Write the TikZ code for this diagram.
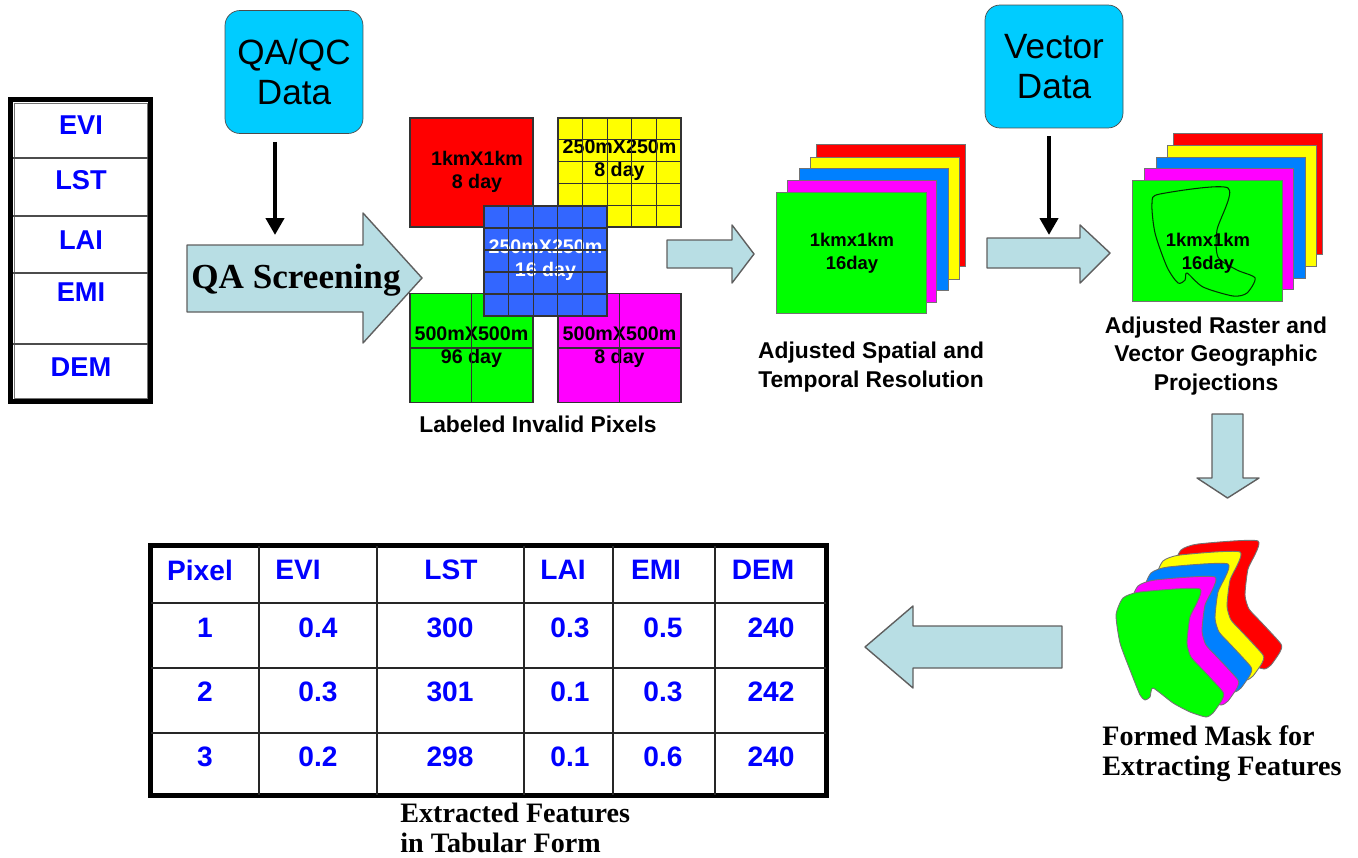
\documentclass[tikz,border=0pt]{standalone}
\usepackage{fontspec}
\setmainfont{Liberation Sans}
\newfontfamily\timesfont{Liberation Serif}
\usetikzlibrary{arrows.meta}

\definecolor{datacyan}{RGB}{0,204,255}
\definecolor{arrfill}{RGB}{184,222,228}
\definecolor{arrline}{RGB}{95,95,95}
\definecolor{txtblue}{RGB}{0,0,255}
\definecolor{tileblue}{RGB}{51,102,255}
\definecolor{layblue}{RGB}{0,128,255}
\definecolor{layred}{RGB}{255,0,0}
\definecolor{layyellow}{RGB}{255,255,0}
\definecolor{laygreen}{RGB}{0,255,0}
\definecolor{laymagenta}{RGB}{255,0,255}

\begin{document}
\begin{tikzpicture}[
  x=0.02cm, y=-0.02cm,
  blockarr/.style={fill=arrfill, draw=arrline, line width=0.8pt, line join=round},
  feed/.style={-{Triangle[width=0.36cm,length=0.34cm]}, line width=2.8pt, black},
  databox/.style={draw=black!70, fill=datacyan, rounded corners=0.3cm,
                  minimum width=2.76cm, minimum height=2.46cm, align=center,
                  font=\fontsize{20}{23}\selectfont},
  tile/.style={draw=black!80, line width=0.6pt, minimum width=2.46cm,
               minimum height=2.18cm, inner sep=0pt},
  tiletxt/.style={font=\fontsize{11.2}{13}\selectfont\bfseries, align=center, inner sep=0pt},
  gridln/.style={black!80, line width=0.6pt},
  layer/.style={draw=black!55, line width=0.5pt},
  stacktxt/.style={font=\fontsize{10.5}{13}\selectfont\bfseries, align=center, inner sep=0pt},
  lbl/.style={font=\fontsize{13}{16.3}\selectfont\bfseries, align=center, inner sep=0pt},
  serlbl/.style={font=\timesfont\fontsize{16}{17}\selectfont\bfseries, align=left, inner sep=0pt},
  band/.style={font=\fontsize{15.5}{18}\selectfont\bfseries, text=txtblue, inner sep=0pt},
  tcell/.style={font=\fontsize{16}{19}\selectfont\bfseries, text=txtblue, inner sep=0pt},
  tline/.style={black!85, line width=0.8pt},
]
\useasboundingbox (0,0) rectangle (1358,858);

%% ── input layers ─────────────────────────────────────────────────
\draw[line width=2.8pt] (10.5,99.5) rectangle (150.5,401.5);
\draw[black!55, line width=0.5pt] (14,103) rectangle (147,398);
\foreach \y in {158,216,273,344}
  \draw[black!70, line width=0.6pt] (13,\y) -- (148,\y);
\foreach \y/\t in {125/EVI, 180/LST, 240/LAI, 292/EMI, 367/DEM}
  \node[band] (b\t) at (81,\y) {\t};

%% ── QA screening ─────────────────────────────────────────────────
\node[databox] (qaqc) at (294,72) {QA/QC\\Data};
\coordinate (qain) at (275,235);
\draw[feed, shorten <=0.16cm] (qaqc.south -| qain) -- (qain);

\draw[blockarr] (187,245) -- (363,245) -- (363,213) -- (422,278)
  -- (363,343) -- (363,312) -- (187,312) -- cycle;
\node[font=\timesfont\fontsize{20}{24}\selectfont\bfseries, anchor=west, inner sep=0pt]
  (qascr) at (191,280) {QA Screening};

%% ── labeled invalid pixels ───────────────────────────────────────
% 1km tile
\node[tile, fill=layred] (tred) at (471.5,172.5) {};
\node[tiletxt] (tredlbl) at (477,172) {1kmX1km\\8 day};

% 250m, 8 day
\node[tile, fill=layyellow] (tyel) at (619.5,172.5) {};
\node[tiletxt] (tyellbl) at (619.5,160) {250mX250m\\8 day};
\foreach \i in {1,...,4} {
  \draw[gridln] (558+24.6*\i,118) -- (558+24.6*\i,227);
  \draw[gridln] (558,118+21.8*\i) -- (681,118+21.8*\i);
}

% 500m, 96 day
\node[tile, fill=laygreen] (tgrn) at (471.5,348) {};
\node[tiletxt] (tgrnlbl) at (471.5,347) {500mX500m\\96 day};
\draw[gridln] (471.5,293) -- (471.5,403);
\draw[gridln] (410,348) -- (533,348);

% 500m, 8 day
\node[tile, fill=laymagenta] (tmag) at (619.5,348) {};
\node[tiletxt] (tmaglbl) at (619.5,347) {500mX500m\\8 day};
\draw[gridln] (619.5,293) -- (619.5,403);
\draw[gridln] (558,348) -- (681,348);

% 250m, 16 day (on top)
\node[tile, fill=tileblue, minimum height=2.2cm] (tblu) at (545.5,261) {};
\node[tiletxt, text=white] (tblulbl) at (545.5,260) {250mX250m\\16 day};
\foreach \i in {1,...,4} {
  \draw[gridln] (484+24.6*\i,206) -- (484+24.6*\i,316);
  \draw[gridln] (484,206+22*\i) -- (607,206+22*\i);
}

\node[lbl] (lblpix) at (538,424) {Labeled Invalid Pixels};

%% ── resampled stack ──────────────────────────────────────────────
\draw[blockarr] (667,240) -- (732,240) -- (732,225) -- (754,254)
  -- (732,283) -- (732,268) -- (667,268) -- cycle;

\foreach \c/\xa/\ya in {layred/816/144, layyellow/810/157, layblue/799/168, laymagenta/787/180}
  \filldraw[layer, fill=\c] (\xa,\ya) rectangle ++(149,122);
\node[layer, fill=laygreen, minimum width=3cm, minimum height=2.42cm] (rs1) at (851,252.5) {};
\node[stacktxt] (rs1lbl) at (852,253.5) {1kmx1km\\16day};

\node[lbl] (lblres) at (871,367) {Adjusted Spatial and\\Temporal Resolution};

%% ── vector overlay stack ─────────────────────────────────────────
\node[databox] (vecdata) at (1054,66.5) {Vector\\Data};
\coordinate (vecin) at (1049,235);

\draw[blockarr] (987,238) -- (1080,238) -- (1080,225) -- (1110,253)
  -- (1080,283) -- (1080,268) -- (987,268) -- cycle;
\draw[feed, shorten <=0.16cm] (vecdata.south -| vecin) -- (vecin);

\foreach \c/\xa/\ya in {layred/1173/133, layyellow/1167/145, layblue/1156/157, laymagenta/1144/168}
  \filldraw[layer, fill=\c] (\xa,\ya) rectangle ++(149,121);
\node[layer, fill=laygreen, minimum width=3cm, minimum height=2.42cm] (rs2) at (1207,240.5) {};
\draw[black!60!green!50!black, line width=0.6pt] plot[smooth cycle, tension=0.45] coordinates {
  (1152,203) (1160,194) (1228,188) (1217,230) (1218,257) (1237,270) (1255,278)
  (1247,293) (1233,296) (1203,287) (1187,273) (1185,280) (1178,283) (1167,267) (1155,233)};
\node[stacktxt] (rs2lbl) at (1208,253.5) {1kmx1km\\16day};

\node[lbl] (lblproj) at (1216,356) {Adjusted Raster and\\Vector Geographic\\Projections};

%% ── mask ─────────────────────────────────────────────────────────
\draw[blockarr] (1212,414) -- (1243,414) -- (1243,478) -- (1259,478)
  -- (1227.5,498) -- (1197,478) -- (1212,478) -- cycle;

\foreach \c/\dx/\dy in {layred/58/-48, layyellow/40/-37, layblue/28/-25, laymagenta/15/-12, laygreen/0/0}
  \filldraw[layer, fill=\c, shift={(\dx,\dy)}] plot[smooth cycle, tension=0.35] coordinates {
    (1116,615) (1123,598) (1140,592) (1200,589) (1190,617) (1187,643) (1191,657)
    (1203,670) (1223,692) (1222,700) (1213,713) (1206,717) (1190,712) (1173,703)
    (1153,688) (1150,697) (1145,700) (1140,695) (1130,670) (1120,643)};

\node[serlbl, anchor=west] (lblmask) at (1102,754) {Formed Mask for\\Extracting Features};

%% ── extracted table ──────────────────────────────────────────────
\draw[blockarr] (1062,626) -- (913,626) -- (913,606) -- (865,647)
  -- (913,688) -- (913,668) -- (1062,668) -- cycle;

\draw[line width=2.8pt] (150.5,545.5) rectangle (826.5,795.5);
\foreach \x in {259,377,524,613,715}
  \draw[tline] (\x,546) -- (\x,795);
\foreach \y in {603,668,733}
  \draw[tline] (151,\y) -- (826,\y);

\foreach \x/\t in {200/Pixel, 298/EVI, 451/LST, 563/LAI, 656/EMI, 763/DEM}
  \node[tcell] (h\t) at (\x,570) {\t};
\foreach \y/\p/\ev/\ls/\la/\em/\de in {628/1/0.4/300/0.3/0.5/240,
                                       692/2/0.3/301/0.1/0.3/242,
                                       757/3/0.2/298/0.1/0.6/240} {
  \node[tcell] (p\p)  at (205,\y) {\p};
  \node[tcell] (ev\p) at (318,\y) {\ev};
  \node[tcell] (ls\p) at (450,\y) {\ls};
  \node[tcell] (la\p) at (570,\y) {\la};
  \node[tcell] (em\p) at (663,\y) {\em};
  \node[tcell] (de\p) at (771,\y) {\de};
}

\node[serlbl, anchor=west] (lbltab) at (400,828) {Extracted Features\\in Tabular Form};

\end{tikzpicture}
\end{document}
